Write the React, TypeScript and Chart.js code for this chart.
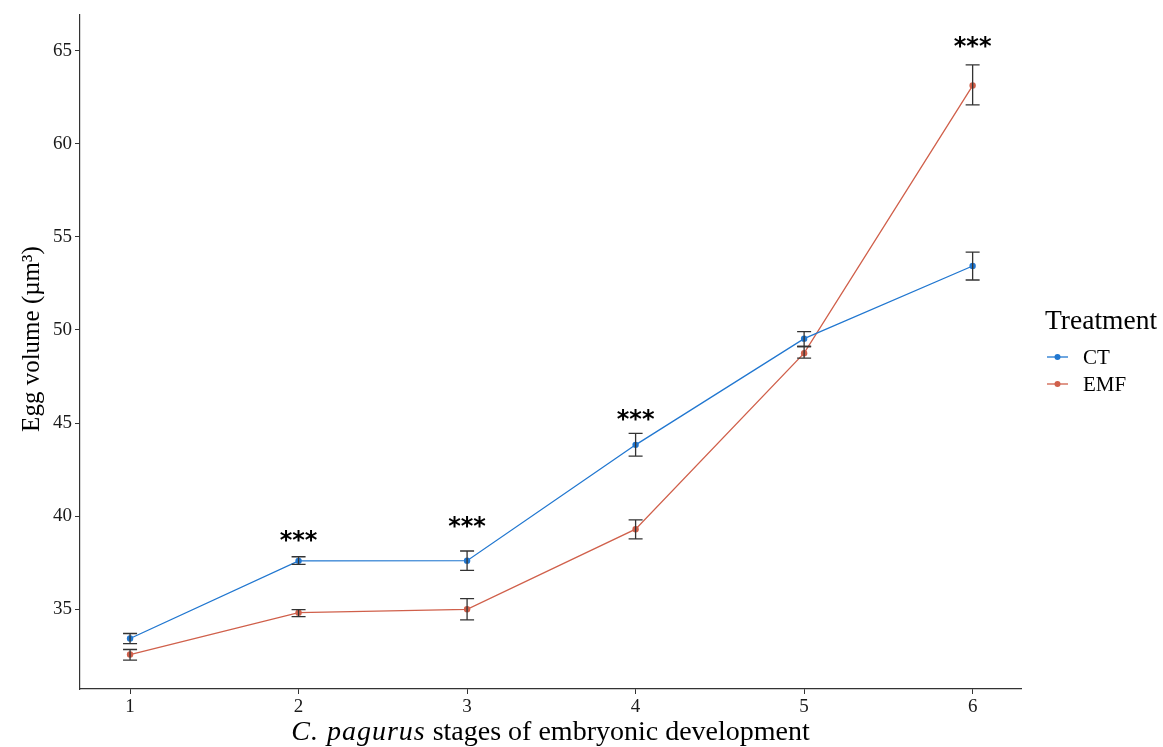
import React, { useEffect, useRef } from 'react';
import { Chart, registerables } from 'chart.js';

Chart.register(...registerables);

const stages = [1, 2, 3, 4, 5, 6];
const ctMean = [33.43, 37.6, 37.61, 43.83, 49.53, 53.43];
const ctLow = [33.16, 37.41, 37.09, 43.22, 49.11, 52.68];
const ctHigh = [33.7, 37.82, 38.13, 44.44, 49.91, 54.18];
const emfMean = [32.57, 34.82, 35.0, 39.3, 48.75, 63.12];
const emfLow = [32.27, 34.61, 34.43, 38.78, 48.48, 62.08];
const emfHigh = [32.84, 34.98, 35.57, 39.8, 49.11, 64.23];
const sigStages = [2, 3, 4, 6];
const sigLabels = ['***', '***', '***', '***'];
const sigY = [39.03, 39.74, 45.5, 65.54];
const yTicks = [35, 40, 45, 50, 55, 60, 65];
const xTicks = [1, 2, 3, 4, 5, 6];
const seriesNames = ['CT', 'EMF'];
const seriesColors = ['#2177d0', '#d0604b'];

const SERIF = "'Liberation Serif', 'Times New Roman', serif";

export default function App() {
  const ref = useRef<HTMLCanvasElement>(null);
  useEffect(() => {
    document.body.style.margin = '0';
    const canvas = ref.current as HTMLCanvasElement;

    const overlay = {
      id: 'overlay',
      afterDatasetsDraw(chart: any) {
        const ctx = chart.ctx;
        const xs = chart.scales.x;
        const ys = chart.scales.y;
        ctx.save();
        ctx.strokeStyle = '#333333';
        ctx.lineWidth = 1.3;
        const bars = [
          [ctLow, ctHigh],
          [emfLow, emfHigh],
        ];
        bars.forEach(([lo, hi]) => {
          stages.forEach((s, i) => {
            const x = xs.getPixelForValue(s);
            const y1 = ys.getPixelForValue(lo[i]);
            const y2 = ys.getPixelForValue(hi[i]);
            ctx.beginPath();
            ctx.moveTo(x, y1);
            ctx.lineTo(x, y2);
            ctx.moveTo(x - 7, y1);
            ctx.lineTo(x + 7, y1);
            ctx.moveTo(x - 7, y2);
            ctx.lineTo(x + 7, y2);
            ctx.stroke();
          });
        });
        // significance stars
        const fs = 24;
        ctx.fillStyle = '#000';
        ctx.font = `bold ${fs}px 'DejaVu Sans', sans-serif`;
        ctx.textAlign = 'center';
        ctx.textBaseline = 'alphabetic';
        sigStages.forEach((s, i) => {
          const x = xs.getPixelForValue(s);
          const y = ys.getPixelForValue(sigY[i]);
          ctx.fillText(sigLabels[i], x, y + 0.56 * fs);
        });
        ctx.restore();
      },
      afterDraw(chart: any) {
        const ctx = chart.ctx;
        const area = chart.chartArea;
        ctx.save();
        ctx.fillStyle = '#000';
        // x title
        const f1 = `italic 28px ${SERIF}`;
        const f2 = `28px ${SERIF}`;
        const t1 = 'C. pagurus';
        const t2 = ' stages of embryonic development';
        ctx.font = f1;
        (ctx as any).letterSpacing = '1px';
        const w1 = ctx.measureText(t1).width;
        (ctx as any).letterSpacing = '0px';
        ctx.font = f2;
        const w2 = ctx.measureText(t2).width;
        const cx = (area.left + area.right) / 2;
        const x0 = cx - (w1 + w2) / 2;
        ctx.textAlign = 'left';
        ctx.textBaseline = 'alphabetic';
        ctx.font = f1;
        (ctx as any).letterSpacing = '1px';
        ctx.fillText(t1, x0, 740);
        (ctx as any).letterSpacing = '0px';
        ctx.font = f2;
        ctx.fillText(t2, x0 + w1, 740);
        // y title
        ctx.save();
        ctx.translate(39, 339);
        ctx.rotate(-Math.PI / 2);
        ctx.textAlign = 'center';
        ctx.font = `25px ${SERIF}`;
        ctx.fillText('Egg volume (\u00b5m\u00b3)', 0, 0);
        ctx.restore();
        // legend
        ctx.textAlign = 'left';
        ctx.textBaseline = 'middle';
        ctx.font = `27.5px ${SERIF}`;
        ctx.fillText('Treatment', 1045, 322);
        ctx.font = `21px ${SERIF}`;
        seriesNames.forEach((n, i) => {
          const y = 357 + i * 27;
          ctx.strokeStyle = seriesColors[i];
          ctx.lineWidth = 1.3;
          ctx.beginPath();
          ctx.moveTo(1047, y);
          ctx.lineTo(1068, y);
          ctx.stroke();
          ctx.fillStyle = seriesColors[i];
          ctx.beginPath();
          ctx.arc(1057.5, y, 3, 0, Math.PI * 2);
          ctx.fill();
          ctx.fillStyle = '#000';
          ctx.fillText(n, 1083, y + 1);
        });
        ctx.restore();
      },
    };

    const mk = (vals: number[]) => stages.map((s, i) => ({ x: s, y: vals[i] }));

    const chart = new Chart(canvas, {
      type: 'line',
      data: {
        datasets: [
          {
            label: seriesNames[0],
            data: mk(ctMean),
            borderColor: seriesColors[0],
            backgroundColor: seriesColors[0],
            borderWidth: 1.3,
            pointRadius: 3.2,
            pointBorderWidth: 0,
            tension: 0,
          },
          {
            label: seriesNames[1],
            data: mk(emfMean),
            borderColor: seriesColors[1],
            backgroundColor: seriesColors[1],
            borderWidth: 1.3,
            pointRadius: 3.2,
            pointBorderWidth: 0,
            tension: 0,
          },
        ],
      },
      options: {
        responsive: false,
        animation: false,
        devicePixelRatio: 1,
        layout: { padding: { left: 0, right: 142, top: 12, bottom: 28 } },
        plugins: { legend: { display: false }, tooltip: { enabled: false } },
        scales: {
          x: {
            type: 'linear',
            min: 0.703,
            max: 6.287,
            afterBuildTicks: (s: any) => {
              s.ticks = xTicks.map((v) => ({ value: v }));
            },
            afterFit: (s: any) => {
              s.height = 30;
            },
            ticks: {
              font: { family: SERIF, size: 19 },
              color: '#1a1a1a',
              padding: 2,
              maxRotation: 0,
            },
            grid: {
              display: true,
              drawOnChartArea: false,
              drawTicks: true,
              tickLength: 5,
              color: '#333333',
              lineWidth: 1,
            },
            border: { display: true, color: '#333333', width: 1.2 },
          },
          y: {
            type: 'linear',
            min: 30.72,
            max: 66.94,
            afterBuildTicks: (s: any) => {
              s.ticks = yTicks.map((v) => ({ value: v }));
            },
            afterFit: (s: any) => {
              s.width = 80;
            },
            ticks: {
              font: { family: SERIF, size: 19 },
              color: '#1a1a1a',
              padding: 3,
            },
            grid: {
              display: true,
              drawOnChartArea: false,
              drawTicks: true,
              tickLength: 5,
              color: '#333333',
              lineWidth: 1,
            },
            border: { display: true, color: '#333333', width: 1.2 },
          },
        },
      },
      plugins: [overlay],
    } as any);
    return () => chart.destroy();
  }, []);

  return (
    <div style={{ position: 'fixed', left: 0, top: 0, width: 1163, height: 747, background: '#fff' }}>
      <canvas ref={ref} width={1163} height={747} style={{ width: 1163, height: 747 }} />
    </div>
  );
}
